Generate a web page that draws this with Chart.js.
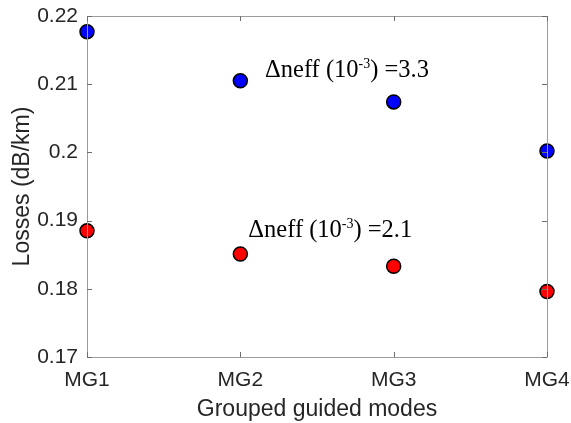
<!DOCTYPE html>
<html>
<head>
<meta charset="utf-8">
<script src="https://cdn.jsdelivr.net/npm/chart.js@4"></script>
<style>
  html, body { margin: 0; padding: 0; background: #ffffff; }
  #wrap { width: 571px; height: 423px; }
</style>
</head>
<body>
<div id="wrap"><canvas id="c" width="571" height="423"></canvas></div>
<script>
// Mode groups on the x axis
const modeGroups = ['MG1', 'MG2', 'MG3', 'MG4'];
// Losses (dB/km) for the fibre with the larger effective-index separation
const lossesDn33 = [0.2177, 0.2105, 0.2074, 0.2002];
// Losses (dB/km) for the fibre with the smaller effective-index separation
const lossesDn21 = [0.1885, 0.1851, 0.1833, 0.1796];
// Y axis tick values
const yTickValues = [0.17, 0.18, 0.19, 0.20, 0.21, 0.22];
// Δneff values written next to each series
const dneffValues = ['3.3', '2.1'];

const AXIS_COLOR = '#9c9c9c';
const TEXT_COLOR = '#262626';
const SANS = '"Liberation Sans", Arial, sans-serif';
const SERIF = '"Liberation Serif", "Times New Roman", serif';

// Closed axes box with inward ticks on all four sides
const boxPlugin = {
  id: 'box',
  afterDatasetsDraw(chart) {
    const { ctx, chartArea: a, scales: { x, y } } = chart;
    const t = 5;
    ctx.save();
    ctx.strokeStyle = AXIS_COLOR;
    ctx.lineWidth = 1;
    ctx.beginPath();
    ctx.rect(Math.round(a.left) + 0.5, Math.round(a.top) + 0.5,
             Math.round(a.right - a.left), Math.round(a.bottom - a.top));
    ctx.stroke();
    ctx.strokeStyle = '#6e6e6e';
    ctx.beginPath();
    y.ticks.forEach(tk => {
      const py = Math.round(y.getPixelForValue(tk.value)) + 0.5;
      ctx.moveTo(a.left, py); ctx.lineTo(a.left + t, py);
      ctx.moveTo(a.right, py); ctx.lineTo(a.right - t, py);
    });
    modeGroups.forEach((_, i) => {
      const px = Math.round(x.getPixelForValue(i)) + 0.5;
      ctx.moveTo(px, a.bottom); ctx.lineTo(px, a.bottom - t);
      ctx.moveTo(px, a.top); ctx.lineTo(px, a.top + t);
    });
    ctx.stroke();
    ctx.restore();
  }
};

// Δneff text labels, anchored in data coordinates
const dneffPlugin = {
  id: 'dneff',
  afterDatasetsDraw(chart) {
    const { ctx, scales: { x, y } } = chart;
    const anchors = [
      { xi: 1.161, yv: 0.21106, value: dneffValues[0] },
      { xi: 1.052, yv: 0.18764, value: dneffValues[1] }
    ];
    ctx.save();
    ctx.fillStyle = '#000000';
    ctx.textBaseline = 'alphabetic';
    ctx.textAlign = 'left';
    anchors.forEach(a => {
      let px = x.getPixelForValue(a.xi);
      const py = y.getPixelForValue(a.yv);
      ctx.font = '24.5px ' + SERIF;
      const p1 = '\u0394neff (10';
      ctx.fillText(p1, px, py);
      px += ctx.measureText(p1).width;
      ctx.font = '14px ' + SERIF;
      const sup = '-3';
      ctx.fillText(sup, px, py - 9);
      px += ctx.measureText(sup).width;
      ctx.font = '24.5px ' + SERIF;
      ctx.fillText(') =' + a.value, px, py);
    });
    ctx.restore();
  }
};

const markerStyle = {
  pointRadius: 7,
  pointHoverRadius: 7,
  pointBorderWidth: 1.5,
  pointBorderColor: '#000000',
  showLine: false,
  clip: false
};

new Chart(document.getElementById('c'), {
  type: 'line',
  data: {
    labels: modeGroups,
    datasets: [
      Object.assign({ label: 'Δneff = 3.3', data: lossesDn33, pointBackgroundColor: '#0000ff', backgroundColor: '#0000ff' }, markerStyle),
      Object.assign({ label: 'Δneff = 2.1', data: lossesDn21, pointBackgroundColor: '#ff0000', backgroundColor: '#ff0000' }, markerStyle)
    ]
  },
  options: {
    responsive: false,
    animation: false,
    layout: { padding: { top: 16, right: 24, left: 0, bottom: 0 } },
    plugins: { legend: { display: false }, tooltip: { enabled: false } },
    scales: {
      x: {
        type: 'category',
        offset: false,
        grid: { display: false, drawTicks: false },
        border: { display: false },
        ticks: { color: TEXT_COLOR, font: { family: SANS, size: 21 }, padding: 11, maxRotation: 0 },
        title: { display: true, text: 'Grouped guided modes', color: TEXT_COLOR, font: { family: SANS, size: 23 }, padding: { top: 0, bottom: 0 } },
        afterFit(s) { s.height = 66; s.paddingLeft = 0; s.paddingRight = 0; }
      },
      y: {
        type: 'linear',
        min: 0.17,
        max: 0.22,
        afterBuildTicks(s) { s.ticks = yTickValues.map(v => ({ value: v })); },
        grid: { display: false, drawTicks: false },
        border: { display: false },
        ticks: {
          color: TEXT_COLOR,
          font: { family: SANS, size: 21 },
          padding: 9,
          callback: v => String(Number(v.toFixed(2)))
        },
        title: { display: true, text: 'Losses (dB/km)', color: TEXT_COLOR, font: { family: SANS, size: 23 }, padding: { top: 9, bottom: 0 } },
        afterFit(s) { s.width = 87; s.paddingTop = 0; s.paddingBottom = 0; }
      }
    }
  },
  plugins: [boxPlugin, dneffPlugin]
});
</script>
</body>
</html>
